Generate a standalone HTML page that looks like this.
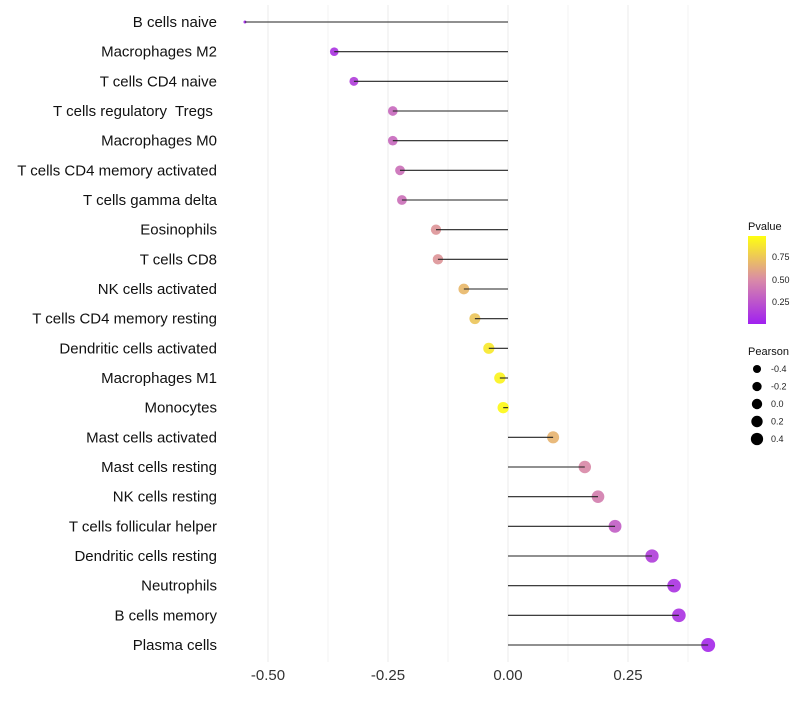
<!DOCTYPE html>
<html><head><meta charset="utf-8"><style>
body{margin:0;background:#fff;font-family:"Liberation Sans",sans-serif}
text{white-space:pre}
</style></head><body>
<svg id="c" width="800" height="700" xmlns="http://www.w3.org/2000/svg">
<defs><linearGradient id="pg" x1="0" y1="1" x2="0" y2="0">
<stop offset="0" stop-color="#a020f0"/><stop offset="0.5" stop-color="#d98aa8"/><stop offset="1" stop-color="#ffff10"/></linearGradient></defs>
<g id="grid"></g><g id="pts"></g><g id="marks"></g><g id="labels"></g>
<g>
<text x="748" y="230" font-size="11" fill="#111">Pvalue</text>
<rect x="748" y="236" width="18" height="88" fill="url(#pg)"/>
<text x="772" y="260" font-size="9" fill="#222">0.75</text>
<text x="772" y="283" font-size="9" fill="#222">0.50</text>
<text x="772" y="305" font-size="9" fill="#222">0.25</text>
</g>
<g id="sizeleg">
<text x="748" y="355" font-size="11" fill="#111">Pearson</text>
</g>
</svg>
<script>
const cells=["B cells naive","Macrophages M2","T cells CD4 naive","T cells regulatory  Tregs ","Macrophages M0","T cells CD4 memory activated","T cells gamma delta","Eosinophils","T cells CD8","NK cells activated","T cells CD4 memory resting","Dendritic cells activated","Macrophages M1","Monocytes","Mast cells activated","Mast cells resting","NK cells resting","T cells follicular helper","Dendritic cells resting","Neutrophils","B cells memory","Plasma cells"];
const pearson=[-0.548,-0.362,-0.321,-0.24,-0.24,-0.225,-0.221,-0.15,-0.146,-0.092,-0.069,-0.04,-0.017,-0.01,0.094,0.16,0.1875,0.223,0.30,0.346,0.356,0.417];
const pvalue=[0.03,0.1,0.15,0.35,0.35,0.38,0.38,0.55,0.55,0.7,0.75,0.9,0.95,0.97,0.68,0.5,0.45,0.3,0.15,0.1,0.1,0.05];
const ticks=[-0.5,-0.25,0,0.25];
const tickLabels=["-0.50","-0.25","0.00","0.25"];
const sizeLegend=[-0.4,-0.2,0.0,0.2,0.4];
const NS="http://www.w3.org/2000/svg";
const X=v=>508+v*480;
const Y=i=>22+i*(623/21);
const R=v=>v<-0.5?1.5:Math.sqrt(32.6+39*v);
const RL=v=>Math.sqrt(27+27*v);
function lerp(a,b,t){return a.map((x,i)=>Math.round(x+(b[i]-x)*t));}
function col(p){const s=[[160,32,240],[217,138,168],[255,255,16]];const c=p<0.5?lerp(s[0],s[1],p/0.5):lerp(s[1],s[2],(p-0.5)/0.5);return `rgb(${c})`;}
function mk(t,a,par){const e=document.createElementNS(NS,t);for(const k in a)e.setAttribute(k,a[k]);document.getElementById(par).appendChild(e);return e;}
for(let v=-0.5;v<=0.4;v+=0.125){const x=X(v);
 const g=mk('line',{x1:x,x2:x,y1:5,y2:662,stroke:'#ebebeb','stroke-width':Math.abs(v*4-Math.round(v*4))<1e-6?1:0.6},'grid');
 
 }
ticks.forEach((t,i)=>{const e=mk('text',{x:X(t),y:680,'font-size':15,fill:'#333','text-anchor':'middle'},'labels');e.textContent=tickLabels[i];
 
 });
cells.forEach((c,i)=>{const y=Y(i);
 const l=mk('text',{x:217,y:y+5,'font-size':15,fill:'#111','text-anchor':'end'},'labels');l.textContent=c;
 
 
 const p=mk('circle',{cx:X(pearson[i]),cy:y,r:R(pearson[i]),fill:col(pvalue[i]),'fill-opacity':0.92},'pts');
 
 
 const s=mk('line',{x1:X(0),x2:X(pearson[i]),y1:y,y2:y,stroke:'#222','stroke-width':1.1},'marks');
 
 });
sizeLegend.forEach((v,i)=>{const y=369+i*17.5;
 const c=mk('circle',{cx:757,cy:y,r:RL(v),fill:'#000'},'sizeleg');
 
 
 const t=mk('text',{x:771,y:y+3,'font-size':9,fill:'#222'},'sizeleg');t.textContent=v.toFixed(1);
 
 });
</script>
</body></html>
